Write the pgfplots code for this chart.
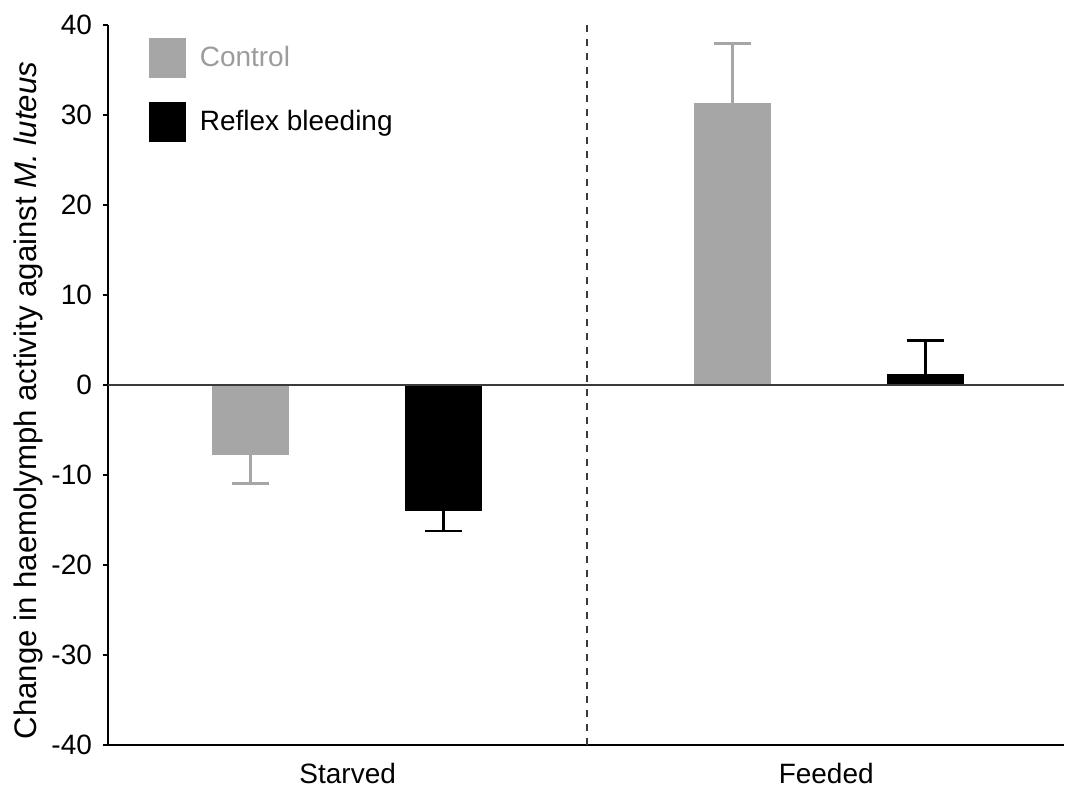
\documentclass[border=0pt]{standalone}
\usepackage{pgfplots}
\pgfplotsset{compat=1.18}
\usepackage{fontspec}
\setmainfont{Liberation Sans}
\usetikzlibrary{calc}
\definecolor{ctrl}{HTML}{A6A6A6}
\definecolor{ctrltext}{HTML}{9C9C9C}
\definecolor{zeroline}{HTML}{3A3A3A}
\begin{document}
\begin{tikzpicture}
\begin{axis}[
  name=ax,
  scale only axis,
  width=478.5bp, height=360.5bp,
  xmin=108, xmax=1065,
  ymin=-40, ymax=40,
  axis x line=bottom, axis y line=left,
  axis line style={-, line width=1bp, black},
  ytick={-40,-30,-20,-10,0,10,20,30,40},
  yticklabels={-40,-30,-20,-10,0,10,20,30,40},
  xtick={348,827},
  xticklabels={Starved,Feeded},
  x tick style={draw=none},
  y tick style={line width=1bp, black},
  tick align=outside,
  major tick length=2.5bp,
  ticklabel style={font=\fontsize{14bp}{16bp}\selectfont},
  yticklabel style={xshift=-2bp},
  xticklabel style={yshift=-3bp},
  ylabel={Change in haemolymph activity against \textit{M. luteus}},
  ylabel style={at={(axis description cs:-0.0836,0.4785)}, anchor=center, font=\fontsize{15.6bp}{17bp}\selectfont},
  legend style={draw=none, fill=none, at={(axis description cs:0,1)}, anchor=north west,
    xshift=20.5bp, yshift=-6.5bp, inner sep=0pt, outer sep=0pt, row sep=12bp,
    font=\fontsize{14bp}{16bp}\selectfont,
    nodes={inner xsep=0pt, inner ysep=0pt}},
  legend cell align=left,
  legend image code/.code={\fill[#1] (0bp,-10bp) rectangle (18.5bp,10bp);},
  clip=false,
]
% Control
\addplot[ybar, bar width=38.5bp, bar shift=0pt, fill=ctrl, draw=none,
  error bars/.cd, y dir=minus, y explicit,
  error bar style={line width=1.4bp, ctrl},
  error mark options={rotate=90, line width=1.4bp, ctrl, mark size=9.25bp}]
  coordinates {(251,-7.8) -= (0,3.1)};
\addlegendentry{\hspace{7bp}\textcolor{ctrltext}{Control}}
% Reflex bleeding
\addplot[ybar, bar width=38.5bp, bar shift=0pt, fill=black, draw=none,
  error bars/.cd, y dir=minus, y explicit,
  error bar style={line width=1.4bp, black},
  error mark options={rotate=90, line width=1.4bp, black, mark size=9.25bp}]
  coordinates {(444,-14.0) -= (0,2.2)};
\addlegendentry{\hspace{7bp}Reflex bleeding}
\addplot[ybar, bar width=38.5bp, bar shift=0pt, fill=ctrl, draw=none, forget plot,
  error bars/.cd, y dir=plus, y explicit,
  error bar style={line width=1.4bp, ctrl},
  error mark options={rotate=90, line width=1.4bp, ctrl, mark size=9.25bp}]
  coordinates {(733,31.3) += (0,6.6)};
\addplot[ybar, bar width=38.5bp, bar shift=0pt, fill=black, draw=none, forget plot,
  error bars/.cd, y dir=plus, y explicit,
  error bar style={line width=1.4bp, black},
  error mark options={rotate=90, line width=1.4bp, black, mark size=9.25bp}]
  coordinates {(926,1.2) += (0,3.8)};
\draw[zeroline, line width=1bp] (axis cs:108,0) -- (axis cs:1065,0);
\draw[zeroline, line width=1bp, dash pattern=on 3.5bp off 3.5bp] (axis cs:588,-40) -- (axis cs:588,40);
\end{axis}
\path ($(ax.south west)+(-54bp,-21.5bp)$) rectangle ($(ax.north east)+(0bp,12.5bp)$);
\end{tikzpicture}
\end{document}
